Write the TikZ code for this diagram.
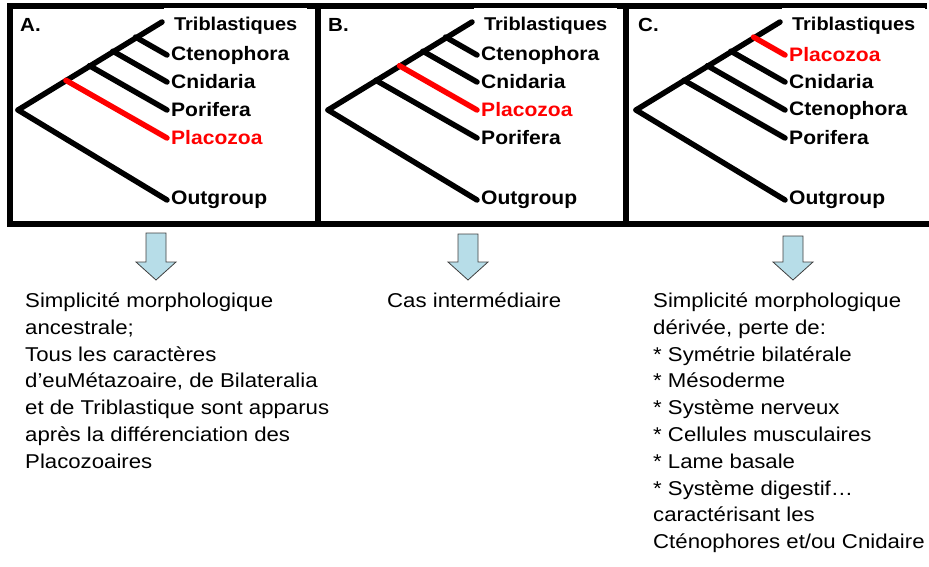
\documentclass[tikz,border=0pt]{standalone}
\usepackage{fontspec}
\setmainfont{Liberation Sans}
\newfontfamily\bodyfont[FakeStretch=1.11]{Liberation Sans}
\newfontfamily\treefont[FakeStretch=1.08]{Liberation Sans}
\usepackage{xcolor}
\definecolor{placored}{RGB}{255,0,0}
\definecolor{arrowblue}{RGB}{183,221,232}

\begin{document}
\begin{tikzpicture}[x=1pt, y=-1pt,
    frame/.style={line width=6pt},
    branch/.style={line width=5.5pt, line cap=round},
    taxon/.style={anchor=west, inner xsep=4pt, inner ysep=0pt,
        font=\treefont\bfseries\fontsize{19.5}{20}\selectfont},
    tribox/.style={anchor=north west, fill=white, minimum width=143pt,
        minimum height=36pt, inner sep=0pt,
        font=\treefont\bfseries\fontsize{18.5}{20}\selectfont},
    tag/.style={anchor=base west, inner sep=0pt,
        font=\treefont\bfseries\fontsize{19}{20}\selectfont},
    note/.style={anchor=north west, align=left, inner sep=0pt,
        font=\bodyfont\fontsize{20}{26.8}\selectfont},
    bluearrow/.style={fill=arrowblue, draw=black!75, line width=0.8pt}]
\useasboundingbox (0,0) rectangle (929,567);

% frames round the three trees
\draw[frame] (927,6.5) -- (9.5,6.5) -- (9.5,223.5) -- (929,223.5);
\draw[frame] (317.5,6.5) -- (317.5,223.5);
\draw[frame] (625.5,6.5) -- (625.5,223.5);

% A.
\begin{scope}
\node[tribox] (tribA) at (164,8) {Triblastiques};
\node[tag] (tagA) at (20,32) {A.};
\coordinate (rootA) at (18,110);
\coordinate (topA) at (162,22);
\coordinate (bA1) at (135.6,37.1);
\coordinate (bA2) at (112.9,51.2);
\coordinate (bA3) at (89.4,65.7);
\coordinate (bA4) at (65.9,80.3);
\node[taxon] (ctenoA) at (167,55) {Ctenophora};
\node[taxon] (cnidA) at (167,82) {Cnidaria};
\node[taxon] (poriA) at (167,110) {Porifera};
\node[taxon, placored] (placoA) at (167,138) {Placozoa};
\node[taxon] (outA) at (167,200) {Outgroup};
\draw[branch] (rootA) -- (topA);
\draw[branch] (bA1) -- (ctenoA.west);
\draw[branch] (bA2) -- (cnidA.west);
\draw[branch] (bA3) -- (poriA.west);
\draw[branch, placored] (bA4) -- (placoA.west);
\draw[branch] (rootA) -- (outA.west);
\end{scope}

% B.
\begin{scope}[shift={(310,0)}]
\node[tribox] (tribB) at (164,8) {Triblastiques};
\node[tag] (tagB) at (18,32) {B.};
\coordinate (rootB) at (18,110);
\coordinate (topB) at (162,22);
\coordinate (bB1) at (135.6,37.1);
\coordinate (bB2) at (112.9,51.2);
\coordinate (bB3) at (89.4,65.7);
\coordinate (bB4) at (65.9,80.3);
\node[taxon] (ctenoB) at (167,55) {Ctenophora};
\node[taxon] (cnidB) at (167,82) {Cnidaria};
\node[taxon, placored] (placoB) at (167,110) {Placozoa};
\node[taxon] (poriB) at (167,138) {Porifera};
\node[taxon] (outB) at (167,200) {Outgroup};
\draw[branch] (rootB) -- (topB);
\draw[branch] (bB1) -- (ctenoB.west);
\draw[branch] (bB2) -- (cnidB.west);
\draw[branch, placored] (bB3) -- (placoB.west);
\draw[branch] (bB4) -- (poriB.west);
\draw[branch] (rootB) -- (outB.west);
\end{scope}

% C.
\begin{scope}[shift={(618,0)}]
\node[tribox] (tribC) at (164,8) {Triblastiques};
\node[tag] (tagC) at (20,32) {C.};
\coordinate (rootC) at (18,110);
\coordinate (topC) at (162,22);
\coordinate (bC1) at (135.6,37.1);
\coordinate (bC2) at (112.9,51.2);
\coordinate (bC3) at (89.4,65.7);
\coordinate (bC4) at (65.9,80.3);
\node[taxon, placored] (placoC) at (167,55) {Placozoa};
\node[taxon] (cnidC) at (167,82) {Cnidaria};
\node[taxon] (ctenoC) at (167,110) {Ctenophora};
\node[taxon] (poriC) at (167,138) {Porifera};
\node[taxon] (outC) at (167,200) {Outgroup};
\draw[branch] (rootC) -- (topC);
\draw[branch, placored] (bC1) -- (placoC.west);
\draw[branch] (bC2) -- (cnidC.west);
\draw[branch] (bC3) -- (ctenoC.west);
\draw[branch] (bC4) -- (poriC.west);
\draw[branch] (rootC) -- (outC.west);
\end{scope}

% block arrows
\foreach \cx/\ty in {156/233, 468/234, 793/236}
    \draw[bluearrow] (\cx-10,\ty) -- (\cx+10,\ty) -- (\cx+10,262) -- (\cx+20,262)
        -- (\cx,280) -- (\cx-20,262) -- (\cx-10,262) -- cycle;

% texts
\node[note] (noteA) at (25,292.5) {Simplicité morphologique\\ancestrale;\\Tous les caractères\\d’euMétazoaire, de Bilateralia\\et de Triblastique sont apparus\\après la différenciation des\\Placozoaires};
\node[note] (noteB) at (387,292.5) {Cas intermédiaire};
\node[note] (noteC) at (653,292.5) {Simplicité morphologique\\dérivée, perte de:\\* Symétrie bilatérale\\* Mésoderme\\* Système nerveux\\* Cellules musculaires\\* Lame basale\\* Système digestif…\\caractérisant les\\Cténophores et/ou Cnidaire};
\end{tikzpicture}
\end{document}
